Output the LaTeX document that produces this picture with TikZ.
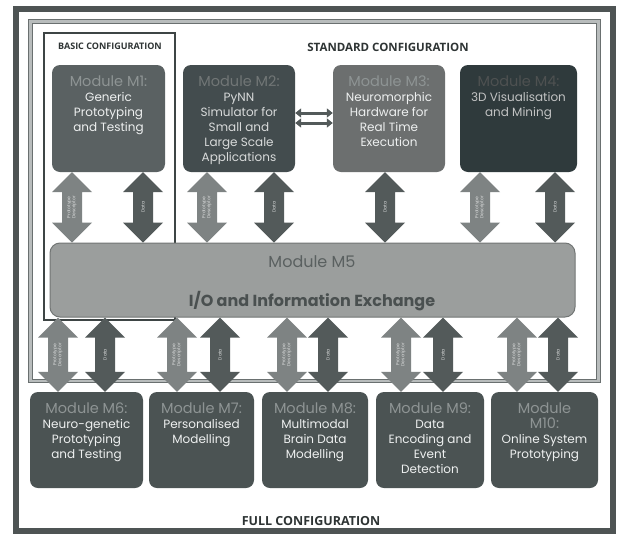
\documentclass[tikz,border=0pt]{standalone}
\usepackage{fontspec}
\newfontfamily\gothic{Poppins}
\newfontfamily\capsfont{Open Sans}
\usetikzlibrary{calc,arrows.meta}

% palette
\definecolor{frameDark}{HTML}{4E5454}
\definecolor{stdEdge}{HTML}{6A7070}
\definecolor{stdMid}{HTML}{B8BCBC}
\definecolor{basicEdge}{HTML}{3E4545}
\definecolor{mOne}{HTML}{5A6162}
\definecolor{mTwo}{HTML}{434C4E}
\definecolor{mThree}{HTML}{6C6F6F}
\definecolor{mFour}{HTML}{2F3A3C}
\definecolor{mLow}{HTML}{4B5353}
\definecolor{ioFill}{HTML}{9B9E9D}
\definecolor{ioEdge}{HTML}{727675}
\definecolor{ioText}{HTML}{5A6060}
\definecolor{ioBold}{HTML}{4A5050}
\definecolor{arrLight}{HTML}{7E8383}
\definecolor{arrDark}{HTML}{535A5A}
\definecolor{titleGrey}{HTML}{8E9494}
\definecolor{bodyWhite}{HTML}{EEF0F0}
\definecolor{hdrText}{HTML}{2E3434}

\tikzset{
  modbox/.style={rectangle, rounded corners=8pt, inner sep=0pt},
  modtext/.style={anchor=north, align=center, inner sep=0pt, text=bodyWhite,
    font=\gothic\fontsize{12}{15}\selectfont},
  hdr/.style={inner sep=0pt, text=hdrText},
  arrowtext/.style={rotate=90, align=center, inner sep=0pt, text=bodyWhite!85!gray,
    font=\gothic\fontsize{4.5}{5}\selectfont},
  linkarrow/.style={arrDark, line width=3pt,
    {Triangle[width=9pt,length=6pt]}-{Triangle[width=9pt,length=6pt]}}
}

% module heading line
\newcommand\mtitle[1]{{\fontsize{14.5}{15}\selectfont\color{titleGrey}#1}}

% vertical double block arrow between two anchors, with its rotated label
\newcommand\ioarrow[5]{%
  \path #1 coordinate (#4a) #2 coordinate (#4b);
  \fill[#3] (#4a) -- ++(20,20) -- ++(-10,0) -- ($(#4b)+(10,-20)$) -- ++(10,0)
    -- (#4b) -- ++(-20,-20) -- ++(10,0) -- ($(#4a)+(-10,20)$) -- ++(-10,0) -- cycle;
  \node[arrowtext] (#4) at ($(#4a)!0.5!(#4b)$) {#5};
}

\begin{document}
\begin{tikzpicture}[x=1pt,y=-1pt]
\useasboundingbox (0,0) rectangle (622,536);
\fill[white] (0,0) rectangle (622,536);

% configuration frames
\draw[frameDark, line width=6pt] (15.5,8.5) rectangle (612.5,531);
\draw[stdEdge, double=stdMid, double distance=2.5pt, line width=1.2pt] (30.5,21.5) rectangle (598.5,381);
\draw[basicEdge, line width=1.6pt] (44,33) rectangle (175,320);

\node[hdr, font=\capsfont\bfseries\fontsize{9}{11}\selectfont] (basic) at (110,46) {BASIC CONFIGURATION};
\node[hdr, font=\capsfont\bfseries\fontsize{11.5}{13}\selectfont] (standard) at (388,47) {STANDARD CONFIGURATION};
\node[hdr, font=\capsfont\bfseries\fontsize{12.5}{14}\selectfont] (full) at (311,521) {FULL CONFIGURATION};

% central exchange module
\node[modbox, fill=ioFill, draw=ioEdge, line width=1pt, rounded corners=10pt,
      minimum width=525pt, minimum height=74pt] (m5) at (312.5,280) {};
\node[inner sep=0pt, text=ioText, font=\gothic\fontsize{16}{18}\selectfont] (m5a) at (312,262) {Module M5};
\node[inner sep=0pt, text=ioBold, font=\gothic\bfseries\fontsize{16}{18}\selectfont] (m5b) at (312,301) {I/O and Information Exchange};

% upper modules
\node[modbox, fill=mOne,   minimum width=113pt, minimum height=107pt] (m1) at (108.5,118.5) {};
\node[modbox, fill=mTwo,   minimum width=112pt, minimum height=107pt] (m2) at (239,118.5) {};
\node[modbox, fill=mThree, minimum width=112pt, minimum height=107pt] (m3) at (389,118.5) {};
\node[modbox, fill=mFour,  minimum width=117pt, minimum height=107pt] (m4) at (518.5,118.5) {};

\node[modtext] (m1t) at ([yshift=-11pt]m1.north) {\mtitle{Module M1:}\\Generic\\Prototyping\\and Testing};
\node[modtext, text=bodyWhite!80!gray] (m2t) at ([yshift=-11pt]m2.north)
  {{\fontsize{14.5}{15}\selectfont\color{titleGrey!80!black}Module M2:}\\PyNN\\Simulator for\\Small and\\Large Scale\\Applications};
\node[modtext] (m3t) at ([yshift=-11pt]m3.north) {\mtitle{Module M3:}\\Neuromorphic\\Hardware for\\Real Time\\Execution};
\node[modtext, text=bodyWhite!60!gray] (m4t) at ([yshift=-11pt]m4.north)
  {{\fontsize{14.5}{15}\selectfont\color{titleGrey!55!black}Module M4:}\\3D Visualisation\\and Mining};

% lower modules
\node[modbox, fill=mLow, minimum width=113pt, minimum height=96pt] (m6)  at (86.5,440) {};
\node[modbox, fill=mLow, minimum width=105pt, minimum height=96pt] (m7)  at (201.5,440) {};
\node[modbox, fill=mLow, minimum width=106pt, minimum height=96pt] (m8)  at (315,440) {};
\node[modbox, fill=mLow, minimum width=108pt, minimum height=96pt] (m9)  at (430,440) {};
\node[modbox, fill=mLow, minimum width=107pt, minimum height=96pt] (m10) at (544.5,440) {};

\node[modtext] (m6t)  at ([yshift=-11pt]m6.north)  {\mtitle{Module M6:}\\Neuro-genetic\\Prototyping\\and Testing};
\node[modtext] (m7t)  at ([yshift=-11pt]m7.north)  {\mtitle{Module M7:}\\Personalised\\Modelling};
\node[modtext] (m8t)  at ([yshift=-11pt]m8.north)  {\mtitle{Module M8:}\\Multimodal\\Brain Data\\Modelling};
\node[modtext] (m9t)  at ([yshift=-11pt]m9.north)  {\mtitle{Module M9:}\\Data\\Encoding and\\Event\\Detection};
\node[modtext] (m10t) at ([yshift=-11pt]m10.north) {\mtitle{Module}\\\mtitle{M10:}\\Online System\\Prototyping};

% links between the simulator and the hardware
\draw[linkarrow] ([yshift=5.5pt]m2.east) -- ([yshift=5.5pt]m3.east -| m3.west);
\draw[linkarrow] ([yshift=-4.5pt]m2.east) -- ([yshift=-4.5pt]m3.east -| m3.west);

% arrow columns
\coordinate (u1) at (72,0);  \coordinate (u2) at (143,0);
\coordinate (u3) at (207,0); \coordinate (u4) at (274,0);
\coordinate (u5) at (385,0);
\coordinate (u6) at (480,0); \coordinate (u7) at (555,0);
\coordinate (l1) at (58,0);  \coordinate (l2) at (105,0);
\coordinate (l3) at (177,0); \coordinate (l4) at (220,0);
\coordinate (l5) at (287,0); \coordinate (l6) at (328,0);
\coordinate (l7) at (401,0); \coordinate (l8) at (443,0);
\coordinate (l9) at (517,0); \coordinate (l10) at (558,0);

% upper exchanges
\ioarrow{(m1.south -| u1)}{(m5.north -| u1)}{arrLight}{pa1}{Prototype\\Descriptor}
\ioarrow{(m1.south -| u2)}{(m5.north -| u2)}{arrDark}{da1}{Data}
\ioarrow{(m2.south -| u3)}{(m5.north -| u3)}{arrLight}{pa2}{Prototype\\Descriptor}
\ioarrow{(m2.south -| u4)}{(m5.north -| u4)}{arrDark}{da2}{Data}
\ioarrow{(m3.south -| u5)}{(m5.north -| u5)}{arrDark}{da3}{Data}
\ioarrow{(m4.south -| u6)}{(m5.north -| u6)}{arrLight}{pa4}{Prototype\\Descriptor}
\ioarrow{(m4.south -| u7)}{(m5.north -| u7)}{arrDark}{da4}{Data}

% lower exchanges
\ioarrow{(m5.south -| l1)}{(m6.north -| l1)}{arrLight}{pa6}{Prototype\\Descriptor}
\ioarrow{(m5.south -| l2)}{(m6.north -| l2)}{arrDark}{da6}{Data}
\ioarrow{(m5.south -| l3)}{(m7.north -| l3)}{arrLight}{pa7}{Prototype\\Descriptor}
\ioarrow{(m5.south -| l4)}{(m7.north -| l4)}{arrDark}{da7}{Data}
\ioarrow{(m5.south -| l5)}{(m8.north -| l5)}{arrLight}{pa8}{Prototype\\Descriptor}
\ioarrow{(m5.south -| l6)}{(m8.north -| l6)}{arrDark}{da8}{Data}
\ioarrow{(m5.south -| l7)}{(m9.north -| l7)}{arrLight}{pa9}{Prototype\\Descriptor}
\ioarrow{(m5.south -| l8)}{(m9.north -| l8)}{arrDark}{da9}{Data}
\ioarrow{(m5.south -| l9)}{(m10.north -| l9)}{arrLight}{pa10}{Prototype\\Descriptor}
\ioarrow{(m5.south -| l10)}{(m10.north -| l10)}{arrDark}{da10}{Data}

\end{tikzpicture}
\end{document}
